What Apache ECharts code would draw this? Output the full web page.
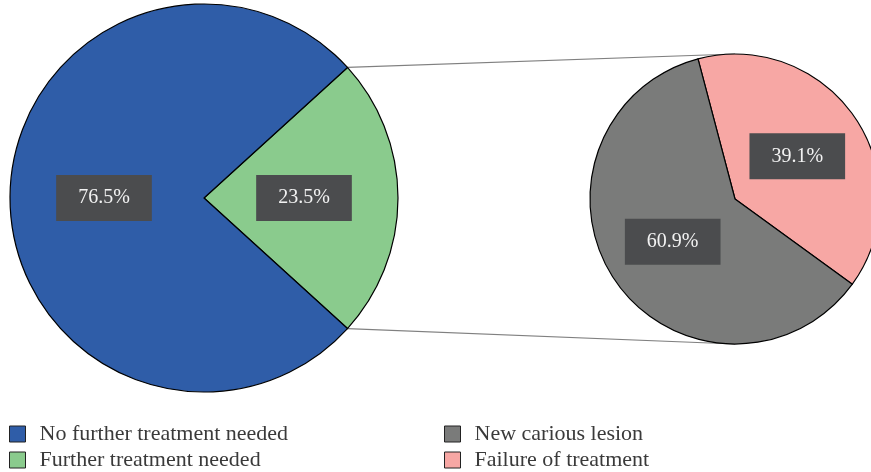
<!DOCTYPE html>
<html>
<head>
<meta charset="utf-8">
<script src="https://cdn.jsdelivr.net/npm/echarts@6/dist/echarts.min.js"></script>
<style>html,body{margin:0;padding:0;background:#fff}#c{width:871px;height:472px}</style>
</head>
<body>
<div id="c"></div>
<script>
// Data
const mainNames = ['Further treatment needed', 'No further treatment needed'];
const mainValues = [23.5, 76.5];
const subNames = ['Failure of treatment', 'New carious lesion'];
const subValues = [39.1, 60.9];
const legendLeft = ['No further treatment needed', 'Further treatment needed'];
const legendRight = ['New carious lesion', 'Failure of treatment'];

// Layout
const C1 = [204, 198], R1 = 194;
const C2 = [735, 199], R2 = 145;
const subBisector = 34.4;
const colors = {
  'No further treatment needed': '#2f5da8',
  'Further treatment needed': '#8acb8d',
  'New carious lesion': '#7a7b7a',
  'Failure of treatment': '#f7a7a4'
};
const serif = '"Liberation Serif", "DejaVu Serif", serif';

const tot1 = mainValues.reduce((a, b) => a + b, 0);
const start1 = mainValues[0] / tot1 * 360 / 2;
const tot2 = subValues.reduce((a, b) => a + b, 0);
const start2 = subBisector + subValues[0] / tot2 * 360 / 2;

const mk = (names, vals) => names.map((n, i) => ({ name: n, value: vals[i], itemStyle: { color: colors[n] } }));

const label = {
  show: true,
  position: 'inside',
  formatter: p => p.value.toFixed(1) + '%',
  color: '#f2f2f2',
  fontFamily: serif,
  fontSize: 20,
  backgroundColor: '#4b4c4e',
  padding: [13, 22, 13, 22]
};

const rad = a => a * Math.PI / 180;
const p1 = [C1[0] + R1 * Math.cos(rad(start1)), C1[1] - R1 * Math.sin(rad(start1))];
const p2 = [C1[0] + R1 * Math.cos(rad(-start1)), C1[1] - R1 * Math.sin(rad(-start1))];

const mkLegend = (name, left, top) => ({
  left: left, top: top, padding: 0,
  data: [name],
  icon: 'rect',
  itemWidth: 16,
  itemHeight: 16,
  textStyle: { fontFamily: serif, fontSize: 22, color: '#3a3a3a', padding: [0, 0, 0, 9] },
  itemStyle: { borderColor: '#222', borderWidth: 1 }
});

const chart = echarts.init(document.getElementById('c'));
chart.setOption({
  animation: false,
  legend: [
    mkLegend(legendLeft[0], 9, 423),
    mkLegend(legendLeft[1], 9, 449),
    mkLegend(legendRight[0], 444, 423),
    mkLegend(legendRight[1], 444, 449)
  ],
  graphic: [
    { type: 'line', z: 0, shape: { x1: p1[0], y1: p1[1], x2: C2[0], y2: C2[1] - R2 }, style: { stroke: '#808080', lineWidth: 1.2 } },
    { type: 'line', z: 0, shape: { x1: p2[0], y1: p2[1], x2: C2[0], y2: C2[1] + R2 }, style: { stroke: '#808080', lineWidth: 1.2 } }
  ],
  series: [
    {
      type: 'pie', center: C1, radius: [0, R1], startAngle: start1, clockwise: true,
      label: label, labelLine: { show: false },
      itemStyle: { borderColor: '#000', borderWidth: 1.2 },
      emphasis: { disabled: true },
      data: mk(mainNames, mainValues)
    },
    {
      type: 'pie', center: C2, radius: [0, R2], startAngle: start2, clockwise: true,
      label: label, labelLine: { show: false },
      itemStyle: { borderColor: '#000', borderWidth: 1.2 },
      emphasis: { disabled: true },
      data: mk(subNames, subValues)
    }
  ]
});
</script>
</body>
</html>
